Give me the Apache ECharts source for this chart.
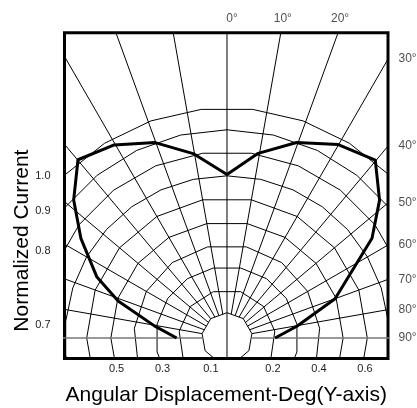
<!DOCTYPE html>
<html>
<head>
<meta charset="utf-8">
<script src="https://cdn.jsdelivr.net/npm/echarts@6/dist/echarts.min.js"></script>
<style>
  html, body { margin: 0; padding: 0; background: #fff; }
  #chart { width: 417px; height: 408px; }
</style>
</head>
<body>
<div id="chart"></div>
<script>
// radiation pattern: angle from the axis (deg) and relative radius
var patternAngles = [-90, -80.5, -71.2, -64.8, -55.7, -48.0, -39.9, -30.3, -20.2, -10.4, 0,
                     9.6, 19.6, 29.9, 39.8, 47.9, 55.5, 70.0, 80.3, 90];
var patternValues = [0.219, 0.32, 0.50, 0.626, 0.769, 0.897, 1.01, 0.972, 0.905, 0.815, 0.711,
                     0.814, 0.902, 0.970, 1.007, 0.894, 0.765, 0.50, 0.31, 0.209];

// grid rings (relative radius), drawn as coarse polygons like the original
var ringRadii = [0.11, 0.21, 0.31, 0.405, 0.505, 0.61, 0.705, 0.81, 0.905, 1.0];
var ringSides = [9, 11, 16, 15, 18, 18, 30, 24, 28, 28];
var ringTurn  = [0, 0.5, 0.5, 0.5, 0.5, 0.5, 0, 0.5, 0, 0.5];

var spokeAngles = [-80, -70, -60, -50, -40, -30, -20, -10, 10, 20, 30, 40, 50, 60, 70, 80];
var angleTicks = [0, 10, 20, 30, 40, 50, 60, 70, 80, 90];

var xTickValues = [-0.48, -0.28, -0.07, 0.2, 0.4, 0.6];
var xTickLabels = ['0.5', '0.3', '0.1', '0.2', '0.4', '0.6'];
var yTickValues = [0.704, 0.552, 0.378, 0.056];
var yTickLabels = ['1.0', '0.9', '0.8', '0.7'];

var X_MIN = -0.7065, X_MAX = 0.70, Y_MIN = -0.089, Y_MAX = 1.327;
var FONT = '"Liberation Sans", Arial, sans-serif';

function pt(deg, r) {
  var a = deg * Math.PI / 180;
  return [r * Math.sin(a), r * Math.cos(a)];
}

// radius of ring polygon k in direction deg
function ringEdge(k, deg) {
  var step = 360 / ringSides[k];
  var off = (((deg - ringTurn[k] * step) % step) + step) % step;
  var d = (off - step / 2) * Math.PI / 180;
  return ringRadii[k] * Math.cos(step / 2 * Math.PI / 180) / Math.cos(d);
}

function lineSeries(data, color, width, z) {
  return {
    type: 'line', data: data, symbol: 'none', silent: true, clip: true, z: z || 2,
    lineStyle: { color: color, width: width }
  };
}

var series = [];

ringRadii.forEach(function (r, k) {
  var n = ringSides[k], step = 360 / n, pts = [];
  for (var i = 0; i <= n; i++) pts.push(pt((i + ringTurn[k]) * step, r));
  series.push(lineSeries(pts, '#000', 1));
});

spokeAngles.forEach(function (a) {
  series.push(lineSeries([pt(a, ringEdge(0, a)), pt(a, 2)], '#000', 1));
});

// vertical 0 deg line and horizontal 90 deg line
series.push(lineSeries([[0, Y_MIN - 0.1], [0, Y_MAX + 0.1]], '#000', 1));
series.push(lineSeries([pt(-90, ringEdge(0, -90)), pt(-90, 1)], '#777', 1.5));
series.push(lineSeries([pt(90, ringEdge(0, 90)), pt(90, 1)], '#777', 1.5));

// the pattern itself
series.push(lineSeries(patternAngles.map(function (a, i) {
  return pt(a, patternValues[i]);
}), '#000', 3, 5));

// angle labels where the spokes leave the box
series.push({
  type: 'scatter', symbolSize: 1, clip: false, silent: true, z: 6,
  itemStyle: { color: 'rgba(0,0,0,0)' },
  data: angleTicks.map(function (a) {
    var rad = a * Math.PI / 180;
    var tTop = Y_MAX / Math.cos(rad);
    var tRight = a > 0 ? X_MAX / Math.sin(rad) : Infinity;
    var onTop = tTop <= tRight;
    var p = pt(a, Math.min(tTop, tRight));
    return {
      value: p,
      label: onTop ? { position: 'top', distance: 8, offset: [a === 0 ? 5 : 2, 0] }
                   : { position: 'right', distance: 10 }
    };
  }),
  label: {
    show: true, fontSize: 12, color: '#222', fontFamily: FONT,
    formatter: function (p) { return angleTicks[p.dataIndex] + '°'; }
  }
});

function pick(values, labels, v) {
  var best = 0;
  for (var i = 1; i < values.length; i++) {
    if (Math.abs(values[i] - v) < Math.abs(values[best] - v)) best = i;
  }
  return labels[best];
}

var chart = echarts.init(document.getElementById('chart'));
chart.setOption({
  animation: false,
  backgroundColor: '#fff',
  grid: {
    left: 64.5, right: 29, top: 32.7, bottom: 49.5, outerBoundsMode: 'none',
    show: true, borderColor: '#000', borderWidth: 3, backgroundColor: 'transparent'
  },
  xAxis: {
    type: 'value', min: X_MIN, max: X_MAX,
    axisLine: { show: false }, axisTick: { show: false }, splitLine: { show: false },
    axisLabel: {
      customValues: xTickValues, margin: 5, fontSize: 11, color: '#222', fontFamily: FONT,
      formatter: function (v) { return pick(xTickValues, xTickLabels, v); }
    },
    name: 'Angular Displacement-Deg(Y-axis)', nameLocation: 'middle', nameGap: 26,
    nameMoveOverlap: false,
    nameTextStyle: { fontSize: 21, color: '#000', fontFamily: FONT }
  },
  yAxis: {
    type: 'value', min: Y_MIN, max: Y_MAX,
    axisLine: { show: false }, axisTick: { show: false }, splitLine: { show: false },
    axisLabel: {
      customValues: yTickValues, margin: 14, fontSize: 11, color: '#222', fontFamily: FONT,
      formatter: function (v) { return pick(yTickValues, yTickLabels, v); }
    },
    name: 'Normalized Current', nameLocation: 'middle', nameGap: 32,
    nameMoveOverlap: false,
    nameTextStyle: { fontSize: 21, color: '#000', fontFamily: FONT, padding: [0, 90, 0, 0] }
  },
  series: series
});
</script>
</body>
</html>
